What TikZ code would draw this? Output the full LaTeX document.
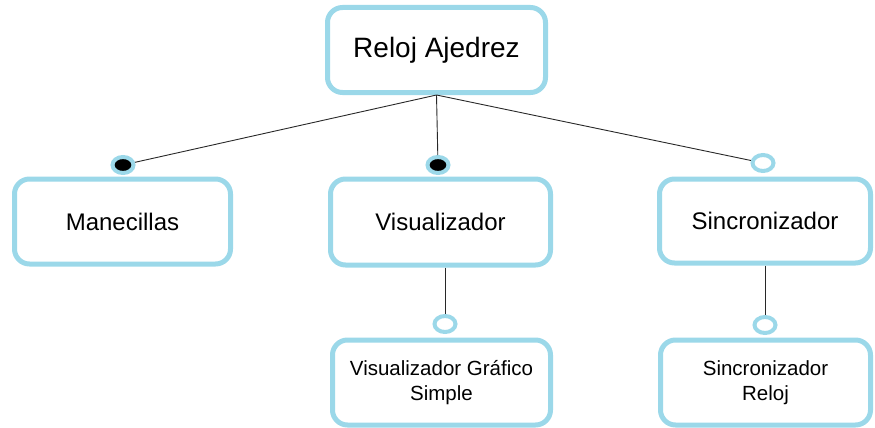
\documentclass[tikz,border=0pt]{standalone}
\usepackage{fontspec}
\setmainfont{Liberation Sans}
\usetikzlibrary{shapes.geometric}
\definecolor{boxblue}{RGB}{155,216,233}
\definecolor{linegray}{RGB}{40,40,40}
\begin{document}
\begin{tikzpicture}[x=1pt,y=-1pt,
  feat/.style={draw=boxblue,line width=5pt,rounded corners=15pt,fill=white,
    align=center,inner sep=0pt,font=\fontsize{24}{28}\selectfont},
  subfeat/.style={feat,font=\fontsize{20.5}{25}\selectfont},
  mand/.style={ellipse,draw=boxblue,line width=4pt,fill=black,
    minimum width=21pt,minimum height=16pt,inner sep=0pt},
  opt/.style={mand,fill=white},
  conn/.style={draw=linegray,line width=0.9pt}]
\useasboundingbox (0,0) rectangle (875,428);
\node[feat,minimum width=218pt,minimum height=85pt,font=\fontsize{28}{32}\selectfont] (root) at (436.5,50) {Reloj Ajedrez};
\node[feat,minimum width=216pt,minimum height=85pt] (man) at (122.5,221.5) {Manecillas};
\node[feat,minimum width=220pt,minimum height=86pt] (vis) at (440.5,222) {Visualizador};
\node[feat,minimum width=211pt,minimum height=84pt] (sin) at (765,221) {Sincronizador};
\node[subfeat,minimum width=218pt,minimum height=85pt] (visg) at (441.5,382.5) {Visualizador Gráfico\\Simple};
\node[subfeat,minimum width=210pt,minimum height=85pt] (sinr) at (765.5,382.5) {Sincronizador\\Reloj};
\node[mand] (cman) at (123,165) {};
\node[mand] (cvis) at (438,165) {};
\node[opt] (csin) at (763,163) {};
\node[opt] (cvisg) at (445,324) {};
\node[opt] (csinr) at (765,325) {};
\draw[conn] (root.south) -- (cman);
\draw[conn] (root.south) -- (cvis);
\draw[conn] (root.south) -- (csin);
\draw[conn] (vis.south -| cvisg) -- (cvisg);
\draw[conn] (sin.south -| csinr) -- (csinr);
\end{tikzpicture}
\end{document}
